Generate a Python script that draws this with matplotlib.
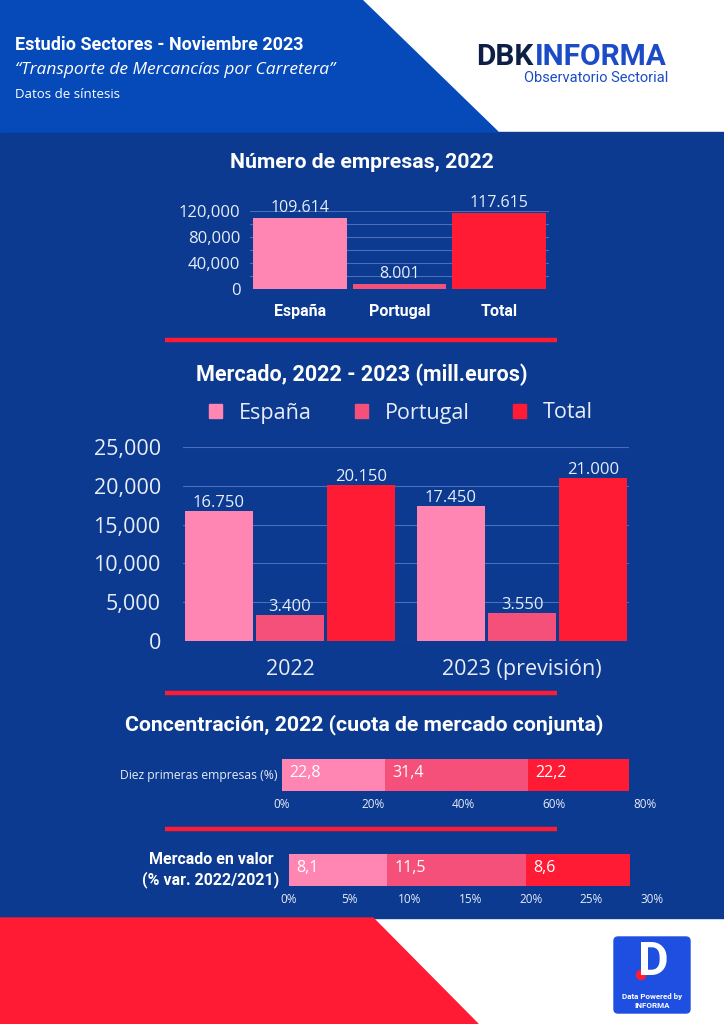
import matplotlib
matplotlib.use("Agg")
import matplotlib.pyplot as plt
from matplotlib.patches import Polygon, Rectangle, FancyBboxPatch, Circle, Patch

# ---------------- data ----------------
emp_categories = ["España", "Portugal", "Total"]
emp_values = [109614, 8001, 117615]
emp_yticks = [0, 40000, 80000, 120000]

mkt_groups = ["2022", "2023 (previsión)"]
mkt_series = ["España", "Portugal", "Total"]
mkt_espana = [16750, 17450]
mkt_portugal = [3400, 3550]
mkt_total = [20150, 21000]
mkt_yticks = [0, 5000, 10000, 15000, 20000, 25000]

conc_label = "Diez primeras empresas (%)"
conc_values = [22.8, 31.4, 22.2]
conc_xticks = [0, 20, 40, 60, 80]

var_label = "Mercado en valor\n(% var. 2022/2021)"
var_values = [8.1, 11.5, 8.6]
var_xticks = [0, 5, 10, 15, 20, 25, 30]

# ---------------- style ----------------
W, H = 724, 1024
C_ES = "#FF86B2"
C_PT = "#F5507A"
C_TOT = "#FF1B33"
colors = [C_ES, C_PT, C_TOT]
BG = "#0B3A90"
HEAD = "#0649B8"
TXT = "#E8EDF8"
GRID = "#5A7CC4"
NUMF = ["Open Sans", "DejaVu Sans"]
BOLDF = ["Roboto", "DejaVu Sans"]

fig = plt.figure(figsize=(W / 100, H / 100), dpi=100)


def rect(x0, y0, x1, y1):
    return [x0 / W, 1 - y1 / H, (x1 - x0) / W, (y1 - y0) / H]


# ---------------- background ----------------
bg = fig.add_axes([0, 0, 1, 1], zorder=-10)
bg.set_xlim(0, W)
bg.set_ylim(H, 0)
bg.axis("off")
bg.add_patch(Rectangle((0, 0), W, H, color="white"))
bg.add_patch(Rectangle((0, 132), W, 786, color=BG))
bg.add_patch(Polygon([(0, 0), (362, 0), (498, 132), (0, 132)], color=HEAD))
bg.add_patch(Polygon([(0, 918), (373, 918), (478, 1024), (0, 1024)], color=C_TOT))

# header text
bg.text(15, 45, "Estudio Sectores - Noviembre 2023", color="white", fontsize=13,
        fontweight="bold", family=BOLDF, va="center", ha="left")
bg.text(15, 70, "\u201cTransporte de Mercancías por Carretera\u201d", color="white",
        fontsize=12.5, style="italic", family=NUMF, va="center", ha="left")
bg.text(15, 94, "Datos de síntesis", color="white", fontsize=9.5,
        family=NUMF, va="center", ha="left")

# logo
bg.text(476, 57, "DBK", color="#0E1F45", fontsize=21.5, fontweight="bold",
        family=BOLDF, va="center", ha="left")
bg.text(535, 57, "INFORMA", color="#1B4BC6", fontsize=21.5, fontweight="bold",
        family=BOLDF, va="center", ha="left")
bg.text(668, 78, "Observatorio Sectorial", color="#1B4BC6", fontsize=10.5,
        family=BOLDF, va="center", ha="right")

# bottom logo box
bg.add_patch(FancyBboxPatch((614, 937), 76, 76, boxstyle="round,pad=0,rounding_size=4",
                            color="#1E4FE0"))
bg.text(653, 962, "D", color="white", fontsize=34, fontweight="bold",
        family=BOLDF, va="center", ha="center")
bg.add_patch(Circle((641, 975), 4.5, color=C_TOT))
bg.text(652, 996, "Data Powered by", color="white", fontsize=5.8, fontweight="bold",
        family=BOLDF, va="center", ha="center")
bg.text(652, 1006, "INFORMA", color="white", fontsize=5.8, fontweight="bold",
        family=BOLDF, va="center", ha="center")

# separators
for yy in (340, 693, 829):
    bg.plot([165, 557], [yy, yy], color=C_TOT, lw=3.2, solid_capstyle="butt")

# section titles
bg.text(362, 162, "Número de empresas, 2022", color="white", fontsize=15.3,
        fontweight="bold", family=BOLDF, ha="center", va="center")
bg.text(362, 375, "Mercado, 2022 - 2023 (mill.euros)", color="white", fontsize=15.5,
        fontweight="bold", family=BOLDF, ha="center", va="center")
bg.text(364, 725, "Concentración, 2022 (cuota de mercado conjunta)", color="white",
        fontsize=15.3, fontweight="bold", family=BOLDF, ha="center", va="center")


def thousands_dot(v):
    return f"{v:,}".replace(",", ".")


def style_axes(ax):
    for s in ax.spines.values():
        s.set_visible(False)
    ax.set_facecolor("none")
    ax.tick_params(length=0, colors=TXT)


# ---------------- chart 1 ----------------
ax1 = fig.add_axes(rect(250, 211, 549, 289))
style_axes(ax1)
x1 = list(range(len(emp_categories)))
bars = ax1.bar(x1, emp_values, width=0.94, color=colors, zorder=3)
ax1.set_xlim(-0.5, len(emp_categories) - 0.5)
ax1.set_ylim(0, 120000)
ax1.set_yticks(emp_yticks)
ax1.set_yticklabels([f"{v:,}" for v in emp_yticks], fontsize=12, family=NUMF, color=TXT)
ax1.set_yticks(range(0, 120001, 20000), minor=True)
ax1.tick_params(which="minor", length=0)
ax1.grid(axis="y", which="both", color=GRID, lw=0.8, alpha=0.8, zorder=0)
ax1.set_xticks(x1)
ax1.set_xticklabels(emp_categories, fontsize=11.5, fontweight="bold", family=BOLDF,
                    color="white")
ax1.tick_params(axis="x", pad=11)
ax1.tick_params(axis="y", pad=7)
for b, v in zip(bars, emp_values):
    ax1.annotate(thousands_dot(v), (b.get_x() + b.get_width() / 2, v),
                 xytext=(0, 1), textcoords="offset points", ha="center", va="bottom",
                 fontsize=11.5, family=NUMF, color=TXT, annotation_clip=False)

# ---------------- chart 2 ----------------
ax2 = fig.add_axes(rect(183, 447, 629, 641))
style_axes(ax2)
bw = 0.295
series_vals = [mkt_espana, mkt_portugal, mkt_total]
handles = []
for i, (name, vals, col) in enumerate(zip(mkt_series, series_vals, colors)):
    xs = [g + (i - 1) * (bw + 0.012) for g in range(len(mkt_groups))]
    bb = ax2.bar(xs, vals, width=bw, color=col, zorder=3)
    handles.append(Patch(color=col, label=name))
    for b, v in zip(bb, vals):
        ax2.annotate(thousands_dot(v), (b.get_x() + b.get_width() / 2, v),
                     xytext=(0, 0), textcoords="offset points", ha="center",
                     va="bottom", fontsize=12, family=NUMF, color=TXT)
ax2.set_xlim(-0.461, 1.461)
ax2.set_ylim(0, 25000)
ax2.set_yticks(mkt_yticks)
ax2.set_yticklabels([f"{v:,}" for v in mkt_yticks], fontsize=15.5, family=NUMF, color=TXT)
ax2.grid(axis="y", color=GRID, lw=0.8, alpha=0.8, zorder=0)
ax2.set_xticks(range(len(mkt_groups)))
ax2.set_xticklabels(mkt_groups, fontsize=15.5, family=NUMF, color=TXT)
ax2.tick_params(axis="x", pad=13)
ax2.tick_params(axis="y", pad=16)
leg = ax2.legend(handles=handles, loc="center", bbox_to_anchor=(401 / W, 1 - 413 / H),
                 bbox_transform=fig.transFigure, ncol=3, frameon=False,
                 handlelength=0.6, handleheight=0.6, handletextpad=0.8,
                 columnspacing=2.0, prop={"family": NUMF, "size": 15.5})
for t in leg.get_texts():
    t.set_color(TXT)


# ---------------- chart 3 / 4 : stacked horizontal ----------------
def stacked(axrect, values, xmax, xticks):
    ax = fig.add_axes(rect(*axrect))
    style_axes(ax)
    left = 0
    for v, col in zip(values, colors):
        ax.barh(0, v, left=left, height=1.0, color=col, zorder=3)
        ax.text(left + xmax * 0.02, 0.05, f"{v:.1f}".replace(".", ","), ha="left",
                va="center", fontsize=11.5, family=NUMF, color="white", zorder=4)
        left += v
    ax.set_xlim(0, xmax)
    ax.set_ylim(-0.5, 0.5)
    ax.set_xticks(xticks)
    ax.set_xticklabels([f"{t}%" for t in xticks], fontsize=8.5, family=NUMF, color=TXT)
    ax.tick_params(axis="x", pad=5)
    ax.set_yticks([])
    return ax


ax3 = stacked((282, 759, 645, 791), conc_values, 80, conc_xticks)
ax3.text(-80 * 0.012, 0, conc_label, ha="right", va="center", fontsize=8.7,
         family=NUMF, color=TXT)
ax4 = stacked((289, 854, 652, 886), var_values, 30, var_xticks)
bg.text(211, 870, var_label, ha="center", va="center", fontsize=11.5,
        fontweight="bold", family=BOLDF, color="white", linespacing=1.3)

fig.savefig("out.png", dpi=100)
